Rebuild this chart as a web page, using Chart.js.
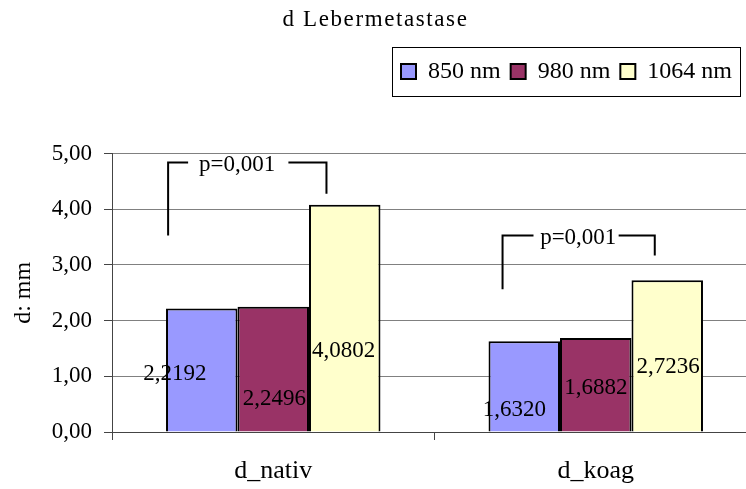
<!DOCTYPE html>
<html><head><meta charset="utf-8">
<script src="https://cdn.jsdelivr.net/npm/chart.js@4"></script>
<style>
html,body{margin:0;padding:0;background:#fff;overflow:hidden;width:746px;height:489px;}
#wrap{position:relative;width:757px;height:500px;}
</style></head><body>
<div id="wrap"><canvas id="c"></canvas></div>
<script>
// ---- data ----
const chartTitle = 'd Lebermetastase';
const categories = ['d_nativ', 'd_koag'];
const seriesNames = ['850 nm', '980 nm', '1064 nm'];
const values850 = [2.2192, 1.6320];
const values980 = [2.2496, 1.6882];
const values1064 = [4.0802, 2.7236];
const yTicks = [0, 1, 2, 3, 4, 5];
const yAxisTitle = 'd: mm';
const pValueTexts = ['p=0,001', 'p=0,001'];

// ---- styling / placement ----
const FONT = "'Liberation Serif', 'Times New Roman', serif";
const COLORS = ['#9999FF', '#993366', '#FFFFCC'];
// data label placement per series/category: [dx in px from bar centre, y in axis units]
const LABEL_POS = [
  [[-27, 1.05], [-10, 0.39]],
  [[1, 0.60], [0, 0.80]],
  [[-1, 1.46], [1, 1.17]]
];
// significance brackets (x in category-index units, y in axis units)
const BRACKETS = [
  {x1: -0.326, x2: 0.165, yTop: 4.84, yL: 3.53, yR: 4.28, gL: -0.264, gR: 0.047, tx: -0.112, ty: 4.80},
  {x1: 0.711, x2: 1.183, yTop: 3.53, yL: 2.566, yR: 3.17, gL: 0.807, gR: 1.071, tx: 0.9457, ty: 3.49}
];
const LEGEND_EXTRA = 59;
const LEGEND_DX = -15;

const fmt = (v, d) => v.toFixed(d).replace('.', ',');

Chart.defaults.font.family = FONT;
Chart.defaults.color = '#000';

const patchPlugin = {
  id: 'patch',
  beforeLayout(chart) {
    const lg = chart.legend;
    if (lg && !lg.__p) {
      const fit = lg.fit;
      lg.fit = function () { fit.call(this); this.height += LEGEND_EXTRA; };
      const draw = lg.draw;
      lg.draw = function () {
        const c = this.ctx;
        c.save();
        c.translate(LEGEND_DX, -1);
        draw.call(this);
        const hb = this.legendHitBoxes;
        if (hb && hb.length) {
          const l = hb[0].left - 9, r = hb[hb.length - 1].left + hb[hb.length - 1].width + 8;
          const t = hb[0].top - 12.5, b = hb[0].top + hb[0].height + 12.5;
          c.strokeStyle = '#000'; c.lineWidth = 1;
          c.strokeRect(Math.round(l) + 0.5, Math.round(t) + 0.5, Math.round(r - l), Math.round(b - t));
        }
        c.restore();
      };
      lg.__p = true;
    }
    const tb = chart.titleBlock;
    if (tb && !tb.__p) {
      const d = tb.draw;
      tb.draw = function () {
        const c = this.ctx;
        c.save();
        c.translate(-3, 0);
        try { c.letterSpacing = '1.6px'; } catch (e) {}
        d.call(this);
        c.restore();
      };
      tb.__p = true;
    }
  }
};

const annotPlugin = {
  id: 'annot',
  afterDatasetsDraw(chart) {
    const c = chart.ctx;
    const xs = chart.scales.x, ys = chart.scales.y;
    c.save();
    c.font = '23px ' + FONT;
    c.fillStyle = '#000';
    c.textAlign = 'center';
    c.textBaseline = 'middle';
    chart.data.datasets.forEach((ds, si) => {
      const meta = chart.getDatasetMeta(si);
      meta.data.forEach((bar, ci) => {
        const p = LABEL_POS[si][ci];
        c.fillText(fmt(ds.data[ci], 4), bar.x + p[0], ys.getPixelForValue(p[1]));
      });
    });
    c.strokeStyle = '#000';
    c.lineWidth = 2;
    BRACKETS.forEach((b, i) => {
      const X = v => xs.getPixelForValue(v);
      const Y = v => ys.getPixelForValue(v);
      c.beginPath();
      c.moveTo(X(b.x1), Y(b.yL));
      c.lineTo(X(b.x1), Y(b.yTop));
      c.lineTo(X(b.gL), Y(b.yTop));
      c.moveTo(X(b.gR), Y(b.yTop));
      c.lineTo(X(b.x2), Y(b.yTop));
      c.lineTo(X(b.x2), Y(b.yR));
      c.stroke();
      c.fillText(pValueTexts[i], X(b.tx), Y(b.ty));
    });
    c.restore();
  }
};

const seriesValues = [values850, values980, values1064];

new Chart(document.getElementById('c'), {
  type: 'bar',
  data: {
    labels: categories,
    datasets: seriesNames.map((n, i) => ({
      label: n,
      data: seriesValues[i],
      backgroundColor: COLORS[i],
      borderColor: '#000',
      borderWidth: 2,
      categoryPercentage: 0.665,
      barPercentage: 1.0
    }))
  },
  options: {
    responsive: true,
    maintainAspectRatio: false,
    animation: false,
    layout: {padding: {left: 0, right: 0, top: 0, bottom: 0}},
    plugins: {
      title: {
        display: true, text: chartTitle, color: '#000',
        font: {size: 23, weight: 'normal', family: FONT, lineHeight: 1.2},
        padding: {top: 6, bottom: 17}
      },
      legend: {
        display: true, position: 'top', align: 'end',
        labels: {
          boxWidth: 15, boxHeight: 15, padding: 10, color: '#000',
          font: {size: 24, family: FONT}
        }
      },
      tooltip: {enabled: false}
    },
    scales: {
      x: {
        type: 'category',
        offset: true,
        grid: {display: true, drawOnChartArea: false, drawTicks: true, tickLength: 8, tickColor: '#444', offset: true},
        border: {display: true, color: '#444', width: 1},
        ticks: {color: '#000', padding: 16, font: {size: 26, family: FONT}},
        afterFit: s => { s.height = 68; }
      },
      y: {
        min: 0, max: 5,
        afterBuildTicks: s => { s.ticks = yTicks.map(v => ({value: v})); },
        grid: {color: '#808080', lineWidth: 1, drawTicks: true, tickLength: 8, tickColor: '#444'},
        border: {display: true, color: '#444', width: 1},
        ticks: {color: '#000', padding: 12, font: {size: 23, family: FONT}, callback: v => fmt(v, 2)},
        title: {display: true, text: yAxisTitle, color: '#000', font: {size: 24, family: FONT}, padding: {top: 9, bottom: 0}},
        afterFit: s => { s.width = 112; }
      }
    }
  },
  plugins: [patchPlugin, annotPlugin]
});
</script>
</body></html>
